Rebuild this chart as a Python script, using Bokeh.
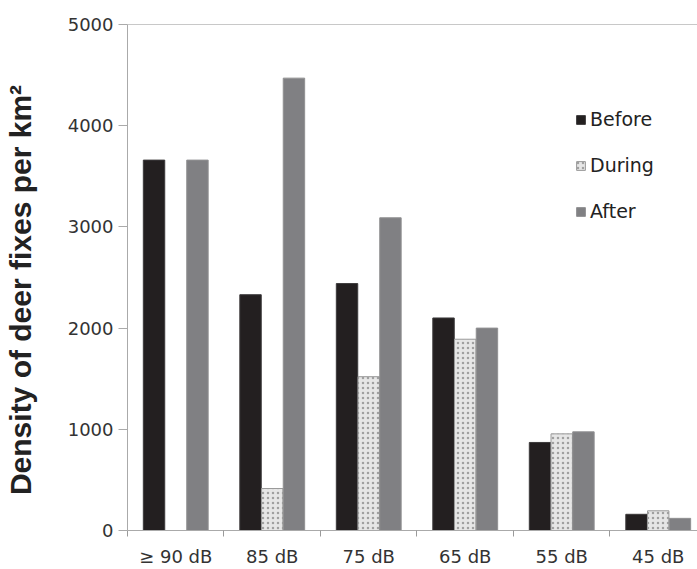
import numpy as np
from bokeh.plotting import figure
from bokeh.models import Range1d, FixedTicker, Legend, LegendItem, LinearAxis
from bokeh.embed import file_html
from bokeh.resources import INLINE

categories = ["≥ 90 dB", "85 dB", "75 dB", "65 dB", "55 dB", "45 dB"]
series_names = ["Before", "During", "After"]
before = [3660, 2330, 2440, 2100, 870, 160]
during = [0, 415, 1520, 1890, 955, 195]
after = [3660, 4470, 3090, 2000, 975, 120]
y_ticks = [0, 1000, 2000, 3000, 4000, 5000]

p = figure(width=697, height=569, output_backend="svg", toolbar_location=None,
           x_range=Range1d(0, 5.907), y_range=Range1d(0, 5000),
           min_border_left=0, min_border_right=0, min_border_top=24,
           min_border_bottom=0)
p.background_fill_color = "white"
p.border_fill_color = "white"
p.outline_line_color = None
p.xgrid.visible = False
p.ygrid.visible = False

idx = np.arange(len(categories))
centers = idx + 0.5
w = 0.222
off = 0.225

r1 = p.vbar(x=centers - off, top=before, width=w, bottom=0,
            fill_color="#231f20", line_color="#3c3a3b", line_width=1)
r2 = p.vbar(x=centers, top=during, width=w, bottom=0,
            fill_color="#e6e6e6", line_color="#9a9a9a", line_width=1,
            hatch_pattern="dot", hatch_color="#a0a0a0", hatch_scale=5,
            hatch_weight=1)
r3 = p.vbar(x=centers + off, top=after, width=w, bottom=0,
            fill_color="#808083", line_color="#909092", line_width=1)

# x axis
xa = p.xaxis[0]
xa.ticker = FixedTicker(ticks=[float(c) for c in centers],
                        minor_ticks=[float(i) for i in idx])
xa.major_label_overrides = {float(c): lab for c, lab in zip(centers, categories)}
xa.major_tick_line_color = None
xa.major_tick_out = 0
xa.major_tick_in = 0
xa.minor_tick_out = 6
xa.minor_tick_in = 0
xa.minor_tick_line_color = "#9a9a9a"
xa.axis_line_color = "#aaaaaa"
xa.major_label_standoff = 9
xa.major_label_text_font = "DejaVu Sans"
xa.major_label_text_font_size = "18px"
xa.major_label_text_color = "#333333"

# top frame line (plain axis line, no ticks or labels)
top_axis = LinearAxis(ticker=FixedTicker(ticks=[]), axis_line_color="#c8c8c8",
                      major_tick_line_color=None, minor_tick_line_color=None,
                      major_label_text_font_size="0px")
p.add_layout(top_axis, "above")

# y axis
ya = p.yaxis[0]
ya.ticker = FixedTicker(ticks=y_ticks)
ya.minor_tick_line_color = None
ya.major_tick_out = 9
ya.major_tick_in = 0
ya.major_tick_line_color = "#aaaaaa"
ya.axis_line_color = "#aaaaaa"
ya.major_label_standoff = 5
ya.major_label_text_font = "DejaVu Sans"
ya.major_label_text_font_size = "18px"
ya.major_label_text_color = "#333333"
ya.axis_label = "Density of deer fixes per km²\u00a0\u00a0\u00a0"
ya.axis_label_text_font = "Liberation Sans"
ya.axis_label_text_font_style = "bold"
ya.axis_label_text_font_size = "30px"
ya.axis_label_text_color = "#222222"
ya.axis_label_standoff = 28

legend = Legend(items=[LegendItem(label=series_names[0], renderers=[r1]),
                       LegendItem(label=series_names[1], renderers=[r2]),
                       LegendItem(label=series_names[2], renderers=[r3])],
                location=(448, 308), glyph_width=11, glyph_height=11,
                label_standoff=4, label_text_font="DejaVu Sans",
                label_text_font_size="19px", label_text_color="#222222",
                label_height=21, spacing=24, padding=0, margin=0,
                border_line_color=None, background_fill_alpha=0)
p.add_layout(legend)

open("out.html", "w").write(file_html(p, INLINE))
